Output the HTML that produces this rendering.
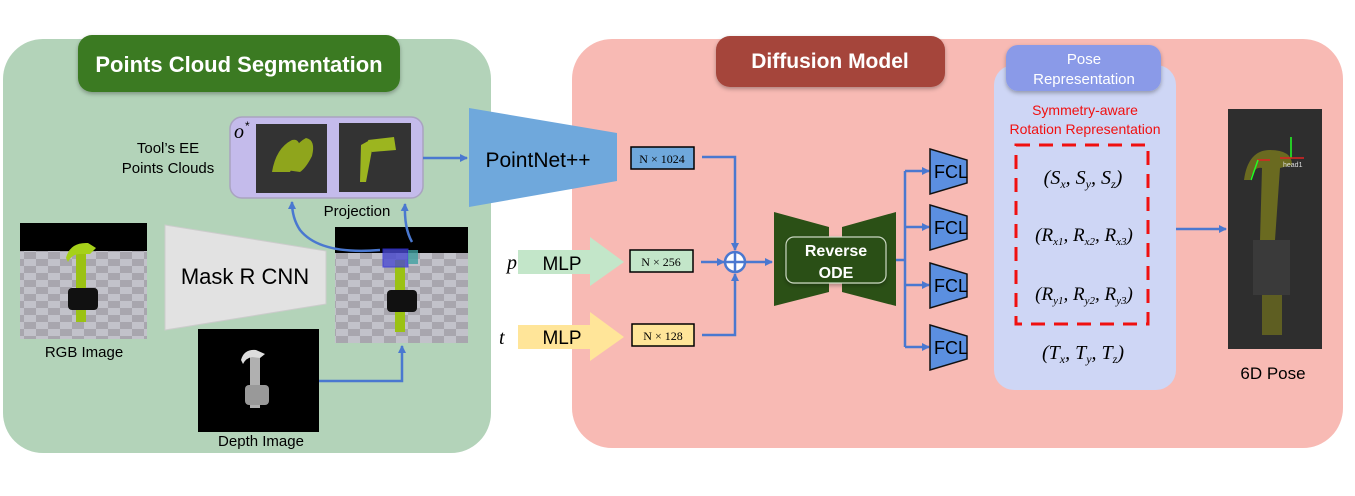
<!DOCTYPE html>
<html><head><meta charset="utf-8"><style>
html,body{margin:0;padding:0;background:#fff;}
svg{display:block;font-family:"Liberation Sans",sans-serif;}
</style></head><body>
<svg width="1355" height="496" viewBox="0 0 1355 496" xmlns="http://www.w3.org/2000/svg">
<defs>
<marker id="ah" markerWidth="8" markerHeight="8" refX="7" refY="4" orient="auto" markerUnits="userSpaceOnUse">
<path d="M0,0 L8,4 L0,8 Z" fill="#4a78d0"/></marker>
<pattern id="chk" width="24" height="14" patternUnits="userSpaceOnUse"><rect width="24" height="14" fill="#c2c2ca"/><rect width="12" height="7" fill="#a8a6ae"/><rect x="12" y="7" width="12" height="7" fill="#a8a6ae"/></pattern>
<filter id="sh" x="-10%" y="-10%" width="120%" height="130%"><feDropShadow dx="0" dy="2" stdDeviation="2" flood-opacity="0.3"/></filter>
</defs>
<rect width="1355" height="496" fill="#fff"/>
<rect x="3" y="39" width="488" height="414" rx="40" fill="#b3d3b9"/>
<rect x="78" y="35" width="322" height="57" rx="14" fill="#3a7a22" filter="url(#sh)"/>
<text x="239" y="72" text-anchor="middle" fill="#fff" font-size="22" font-weight="bold">Points Cloud Segmentation</text>
<rect x="230" y="117" width="193" height="81" rx="12" fill="#c4bbeb" stroke="#a9a3c0" stroke-width="1.5"/>
<text x="234" y="138" font-family="Liberation Serif,serif" font-style="italic" font-size="20">o</text>
<text x="245" y="130" font-size="12">*</text>
<rect x="256" y="124" width="71" height="69" fill="#333"/>
<rect x="339" y="123" width="72" height="69" fill="#333"/>
<path d="M272,172 Q276,148 292,140 Q300,138 300,150 Q296,162 290,172 Z M286,170 Q292,145 306,138 Q316,140 312,156 Q306,168 300,172 Z" fill="#8fa51c"/>
<path d="M361,145 L370,140 L372,150 L366,182 L360,182 Z M368,140 L394,137 L396,150 L372,152 Z" fill="#9cb51f"/>
<text x="168" y="153" text-anchor="middle" font-size="15">Tool’s EE</text>
<text x="168" y="173" text-anchor="middle" font-size="15">Points Clouds</text>
<text x="357" y="216" text-anchor="middle" font-size="15">Projection</text>
<line x1="423" y1="158" x2="467" y2="158" stroke="#4a78d0" stroke-width="2.5" marker-end="url(#ah)"/>
<rect x="20" y="223" width="127" height="116" fill="url(#chk)"/>
<rect x="20" y="223" width="127" height="28" fill="#000"/>
<rect x="76" y="250" width="10" height="72" fill="#9bc213"/>
<path d="M66,258 Q70,242 88,243 L96,248 L90,254 L80,254 Q72,254 68,262 Z" fill="#a6d11a"/>
<rect x="68" y="288" width="30" height="22" rx="4" fill="#111"/>
<text x="84" y="357" text-anchor="middle" font-size="15">RGB Image</text>
<polygon points="165,225 326,251 326,304 165,330" fill="#e2e2e2" stroke="#ccc"/>
<text x="245" y="284" text-anchor="middle" font-size="22">Mask R CNN</text>
<rect x="335" y="227" width="133" height="116" fill="url(#chk)"/>
<rect x="335" y="227" width="133" height="26" fill="#000"/>
<rect x="395" y="260" width="10" height="72" fill="#9bc213"/>
<rect x="383" y="249" width="25" height="18" fill="#4a4ad0" opacity="0.8" stroke="#3030e0"/>
<rect x="408" y="250" width="10" height="14" fill="#40a0a0" opacity="0.8"/>
<rect x="387" y="290" width="30" height="22" rx="4" fill="#111"/>
<rect x="198" y="329" width="121" height="103" fill="#000"/>
<rect x="250" y="352" width="10" height="56" fill="#b0b0b0"/>
<path d="M241,360 Q244,349 256,350 L265,354 L260,358 L252,357 Q246,358 243,364 Z" fill="#ddd"/>
<rect x="245" y="385" width="24" height="20" rx="4" fill="#999"/>
<text x="261" y="446" text-anchor="middle" font-size="15">Depth Image</text>
<polyline points="319,381 402,381 402,346" fill="none" stroke="#4a78d0" stroke-width="2.5" marker-end="url(#ah)"/>
<path d="M380,250 Q320,255 300,230 Q292,218 292,202" fill="none" stroke="#4a78d0" stroke-width="2.5" marker-end="url(#ah)"/>
<path d="M412,242 Q404,228 405,204" fill="none" stroke="#4a78d0" stroke-width="2.5" marker-end="url(#ah)"/>
<rect x="572" y="39" width="771" height="409" rx="40" fill="#f8bab4"/>
<rect x="716" y="36" width="229" height="51" rx="14" fill="#a5443b" filter="url(#sh)"/>
<text x="830" y="68" text-anchor="middle" fill="#fff" font-size="21" font-weight="bold">Diffusion Model</text>
<polygon points="469,108 617,133 617,181 469,207" fill="#6fa8dc"/>
<text x="538" y="167" text-anchor="middle" font-size="21">PointNet++</text>
<text x="507" y="269" font-family="Liberation Serif,serif" font-style="italic" font-size="20">p</text>
<polygon points="518,250 590,250 590,237 624,262 590,286 590,274 518,274" fill="#c3e6c9"/>
<text x="562" y="270" text-anchor="middle" font-size="19">MLP</text>
<text x="499" y="344" font-family="Liberation Serif,serif" font-style="italic" font-size="20">t</text>
<polygon points="518,325 590,325 590,312 624,337 590,361 590,349 518,349" fill="#ffe599"/>
<text x="562" y="344" text-anchor="middle" font-size="19">MLP</text>
<rect x="631" y="147" width="63" height="22" fill="#6fa8dc" stroke="#000" stroke-width="1.5"/>
<text x="662" y="163" text-anchor="middle" font-family="Liberation Serif,serif" font-size="12">N × 1024</text>
<rect x="630" y="250" width="63" height="22" fill="#c3e6c9" stroke="#000" stroke-width="1.5"/>
<text x="661" y="266" text-anchor="middle" font-family="Liberation Serif,serif" font-size="12">N × 256</text>
<rect x="632" y="324" width="62" height="22" fill="#ffe599" stroke="#000" stroke-width="1.5"/>
<text x="663" y="340" text-anchor="middle" font-family="Liberation Serif,serif" font-size="12">N × 128</text>
<polyline points="702,157 735,157 735,250" fill="none" stroke="#4a78d0" stroke-width="2.5" marker-end="url(#ah)"/>
<polyline points="702,335 735,335 735,274" fill="none" stroke="#4a78d0" stroke-width="2.5" marker-end="url(#ah)"/>
<line x1="701" y1="262" x2="724" y2="262" stroke="#4a78d0" stroke-width="2.5" marker-end="url(#ah)"/>
<circle cx="735" cy="262" r="10" fill="#fff" stroke="#4a78d0" stroke-width="2.5"/>
<line x1="725" y1="262" x2="745" y2="262" stroke="#4a78d0" stroke-width="2.5"/>
<line x1="735" y1="252" x2="735" y2="272" stroke="#4a78d0" stroke-width="2.5"/>
<line x1="745" y1="262" x2="772" y2="262" stroke="#4a78d0" stroke-width="2.5" marker-end="url(#ah)"/>
<polygon points="774,212 829,227 829,292 774,306" fill="#2b5016"/>
<polygon points="842,227 896,212 896,306 842,292" fill="#2b5016"/>
<rect x="786" y="237" width="100" height="46" rx="8" fill="#2b5016" stroke="#c8d6c0" stroke-width="1.2" filter="url(#sh)"/>
<text x="836" y="256" text-anchor="middle" fill="#fff" font-size="16" font-weight="bold">Reverse</text>
<text x="836" y="278" text-anchor="middle" fill="#fff" font-size="16" font-weight="bold">ODE</text>
<line x1="896" y1="260" x2="905" y2="260" stroke="#4a78d0" stroke-width="2.5"/>
<line x1="905" y1="171" x2="905" y2="347" stroke="#4a78d0" stroke-width="2.5"/>
<line x1="905" y1="171" x2="929" y2="171" stroke="#4a78d0" stroke-width="2.5" marker-end="url(#ah)"/>
<line x1="905" y1="227" x2="929" y2="227" stroke="#4a78d0" stroke-width="2.5" marker-end="url(#ah)"/>
<line x1="905" y1="285" x2="929" y2="285" stroke="#4a78d0" stroke-width="2.5" marker-end="url(#ah)"/>
<line x1="905" y1="347" x2="929" y2="347" stroke="#4a78d0" stroke-width="2.5" marker-end="url(#ah)"/>
<g fill="#5b8fe0" stroke="#111" stroke-width="1.5">
<polygon points="930,149 967,160 967,183 930,194"/>
<polygon points="930,205 967,216 967,239 930,250"/>
<polygon points="930,263 967,274 967,297 930,308"/>
<polygon points="930,325 967,336 967,359 930,370"/>
</g>
<g font-size="18" text-anchor="middle"><text x="951" y="178">FCL</text><text x="951" y="234">FCL</text><text x="951" y="292">FCL</text><text x="951" y="354">FCL</text></g>
<rect x="994" y="65" width="182" height="325" rx="20" fill="#ced6f5"/>
<rect x="1006" y="45" width="155" height="46" rx="12" fill="#8a9ae8" filter="url(#sh)"/>
<text x="1084" y="64" text-anchor="middle" fill="#fff" font-size="15">Pose</text>
<text x="1084" y="84" text-anchor="middle" fill="#fff" font-size="15">Representation</text>
<text x="1085" y="115" text-anchor="middle" fill="#f01010" font-size="14">Symmetry-aware</text>
<text x="1085" y="134" text-anchor="middle" fill="#f01010" font-size="14">Rotation Representation</text>
<rect x="1016" y="145" width="132" height="179" fill="none" stroke="#f01010" stroke-width="3" stroke-dasharray="14,9"/>
<g font-family="Liberation Serif,serif" font-size="20" text-anchor="middle" font-style="italic">
<text x="1083" y="184">(S<tspan font-size="12" dy="4">x</tspan><tspan dy="-4">, S</tspan><tspan font-size="12" dy="4">y</tspan><tspan dy="-4">, S</tspan><tspan font-size="12" dy="4">z</tspan><tspan dy="-4">)</tspan></text>
<text x="1084" y="241" font-size="19">(R<tspan font-size="11" dy="4">x1</tspan><tspan dy="-4">, R</tspan><tspan font-size="11" dy="4">x2</tspan><tspan dy="-4">, R</tspan><tspan font-size="11" dy="4">x3</tspan><tspan dy="-4">)</tspan></text>
<text x="1084" y="300" font-size="19">(R<tspan font-size="11" dy="4">y1</tspan><tspan dy="-4">, R</tspan><tspan font-size="11" dy="4">y2</tspan><tspan dy="-4">, R</tspan><tspan font-size="11" dy="4">y3</tspan><tspan dy="-4">)</tspan></text>
<text x="1083" y="359">(T<tspan font-size="12" dy="4">x</tspan><tspan dy="-4">, T</tspan><tspan font-size="12" dy="4">y</tspan><tspan dy="-4">, T</tspan><tspan font-size="12" dy="4">z</tspan><tspan dy="-4">)</tspan></text>
</g>
<line x1="1176" y1="229" x2="1226" y2="229" stroke="#4a78d0" stroke-width="2.5" marker-end="url(#ah)"/>
<rect x="1228" y="109" width="94" height="240" fill="#2e2e2e"/>
<path d="M1244,180 Q1248,150 1270,150 Q1292,150 1292,165 L1280,168 L1275,240 L1260,240 L1262,168 Q1254,166 1250,180 Z" fill="#6a6a20"/>
<rect x="1253" y="240" width="37" height="55" fill="#3a3a3a"/>
<rect x="1262" y="295" width="20" height="40" fill="#5e5e22"/>
<line x1="1291" y1="137" x2="1291" y2="158" stroke="#2f2" stroke-width="1.5"/>
<line x1="1280" y1="158" x2="1304" y2="158" stroke="#d22" stroke-width="1.5"/>
<line x1="1257" y1="160" x2="1270" y2="160" stroke="#d22" stroke-width="1.5"/>
<line x1="1258" y1="160" x2="1251" y2="180" stroke="#2f2" stroke-width="1.5"/>
<text x="1283" y="167" fill="#ddd" font-size="7">head1</text>
<text x="1273" y="379" text-anchor="middle" font-size="17">6D Pose</text>
</svg>
</body></html>
